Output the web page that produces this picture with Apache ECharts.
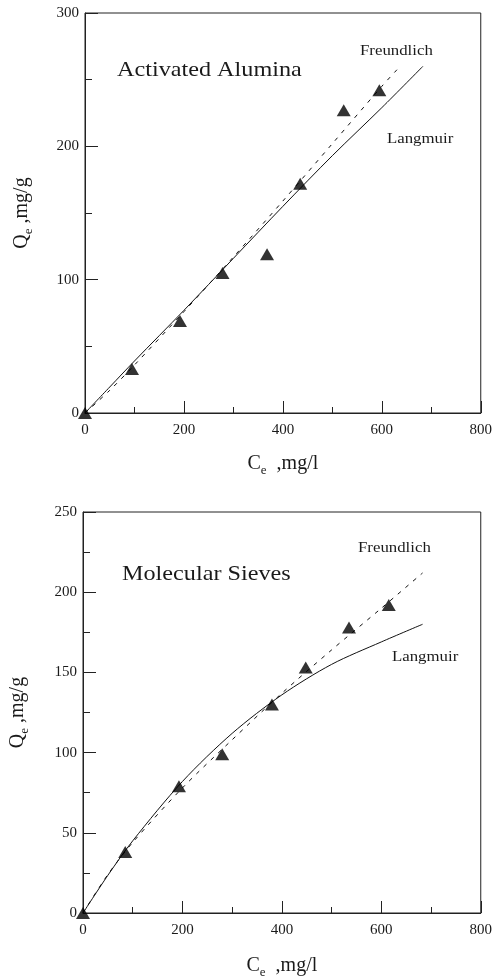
<!DOCTYPE html>
<html>
<head>
<meta charset="utf-8">
<script src="https://cdn.jsdelivr.net/npm/echarts@6/dist/echarts.min.js"></script>
<style>
html,body{margin:0;padding:0;background:#fff;}
#chart{width:495px;height:980px;}
</style>
</head>
<body>
<div id="chart"></div>
<script>
// Activated Alumina (top panel)
const aluminaCe = [0, 95, 192, 278, 368, 435, 523, 595];
const aluminaQe = [0, 33, 69, 105, 119, 172, 227, 242];
const aluminaLangmuirCe = [0, 50, 100, 200, 300, 400, 500, 600, 683];
const aluminaLangmuirQe = [0, 19.5, 39, 77, 116, 155, 193, 229, 260];
const aluminaFreundCe = [0, 50, 100, 200, 300, 400, 500, 600, 632];
const aluminaFreundQe = [0, 17, 36, 76, 117, 159, 202, 245, 258];

// Molecular Sieves (bottom panel)
const sievesCe = [0, 85, 193, 280, 380, 448, 535, 615];
const sievesQe = [0, 38, 79, 99, 130, 153, 178, 192];
const sievesLangmuirCe = [0, 50, 100, 200, 300, 400, 500, 600, 683];
const sievesLangmuirQe = [0, 23.5, 45, 82, 112, 136, 155, 169, 180];
const sievesFreundCe = [0, 50, 100, 200, 300, 400, 500, 600, 683];
const sievesFreundQe = [0, 24, 44, 78, 108, 137, 164, 190, 212];

// axis ranges / ticks
const xRange = [0, 800], xStep = 200;
const yRangeTop = [0, 300], yStepTop = 100;
const yRangeBottom = [0, 250], yStepBottom = 50;

const panelTitles = ['Activated Alumina', 'Molecular Sieves'];
const curveLabels = ['Freundlich', 'Langmuir'];

const FONT = '"Liberation Serif", "DejaVu Serif", serif';
const TXT = '#1a1a1a';

function zip(a, b) { return a.map((v, i) => [v, b[i]]); }

const rich = {
  m: { fontFamily: FONT, fontSize: 20, color: TXT, lineHeight: 26 },
  s: { fontFamily: FONT, fontSize: 13, color: TXT, verticalAlign: 'bottom', lineHeight: 26 }
};

function xAxis(gridIndex, gap) {
  return {
    type: 'value', gridIndex, min: xRange[0], max: xRange[1], interval: xStep,
    name: '{m|C}{s|e}{m|  ,mg/l}', nameLocation: 'middle', nameGap: gap,
    nameTextStyle: { rich },
    axisLine: { show: true, lineStyle: { color: '#222', width: 1 } },
    axisTick: { show: true, inside: true, length: 12, lineStyle: { color: '#222' } },
    minorTick: { show: true, splitNumber: 2, length: 6, lineStyle: { color: '#222' } },
    splitLine: { show: false },
    axisLabel: { fontFamily: FONT, fontSize: 15, color: TXT, margin: 10 }
  };
}
function yAxis(gridIndex, range, step, gap) {
  return {
    type: 'value', gridIndex, min: range[0], max: range[1], interval: step,
    name: '{m|Q}{s|e}{m| ,mg/g}', nameLocation: 'middle', nameGap: gap, nameRotate: 90,
    nameTextStyle: { rich },
    axisLine: { show: true, lineStyle: { color: '#222', width: 1 } },
    axisTick: { show: true, inside: true, length: 13, lineStyle: { color: '#222' } },
    minorTick: { show: true, splitNumber: 2, length: 7, lineStyle: { color: '#222' } },
    splitLine: { show: false },
    axisLabel: { fontFamily: FONT, fontSize: 15, color: TXT, margin: 6 }
  };
}

function lineSeries(idx, data, type) {
  return {
    type: 'line', xAxisIndex: idx, yAxisIndex: idx, data, smooth: 0.3,
    showSymbol: false, symbol: 'none', silent: true,
    lineStyle: { color: '#111', width: 1, type: type },
    z: 2
  };
}
function scatterSeries(idx, data) {
  return {
    type: 'scatter', xAxisIndex: idx, yAxisIndex: idx, data,
    symbol: 'triangle', symbolSize: [14, 12],
    itemStyle: { color: '#000' }, z: 3
  };
}

function text(x, y, str, size, sx) {
  return {
    type: 'text', x: x, y: y, scaleX: sx, z: 10,
    style: { text: str, font: size + 'px ' + FONT, fill: TXT, verticalAlign: 'top', align: 'left' }
  };
}

const option = {
  backgroundColor: '#fff',
  animation: false,
  grid: [
    { left: 85, top: 13, width: 398, height: 400, show: true, borderColor: '#222', borderWidth: 1 },
    { left: 80, top: 512, width: 402, height: 402, show: true, borderColor: '#222', borderWidth: 1 }
  ],
  xAxis: [xAxis(0, 38), xAxis(1, 40)],
  yAxis: [yAxis(0, yRangeTop, yStepTop, 50), yAxis(1, yRangeBottom, yStepBottom, 52)],
  series: [
    lineSeries(0, zip(aluminaLangmuirCe, aluminaLangmuirQe), 'solid'),
    lineSeries(0, zip(aluminaFreundCe, aluminaFreundQe), [4, 6]),
    scatterSeries(0, zip(aluminaCe, aluminaQe)),
    lineSeries(1, zip(sievesLangmuirCe, sievesLangmuirQe), 'solid'),
    lineSeries(1, zip(sievesFreundCe, sievesFreundQe), [4, 6]),
    scatterSeries(1, zip(sievesCe, sievesQe))
  ],
  graphic: [
    text(117, 59, panelTitles[0], 22, 1.1),
    text(360, 44, curveLabels[0], 15, 1.12),
    text(387, 132, curveLabels[1], 15, 1.12),
    text(122, 563, panelTitles[1], 22, 1.1),
    text(358, 541, curveLabels[0], 15, 1.12),
    text(392, 650, curveLabels[1], 15, 1.12)
  ]
};

const chart = echarts.init(document.getElementById('chart'), null, { renderer: 'canvas' });
chart.setOption(option);
</script>
</body>
</html>
